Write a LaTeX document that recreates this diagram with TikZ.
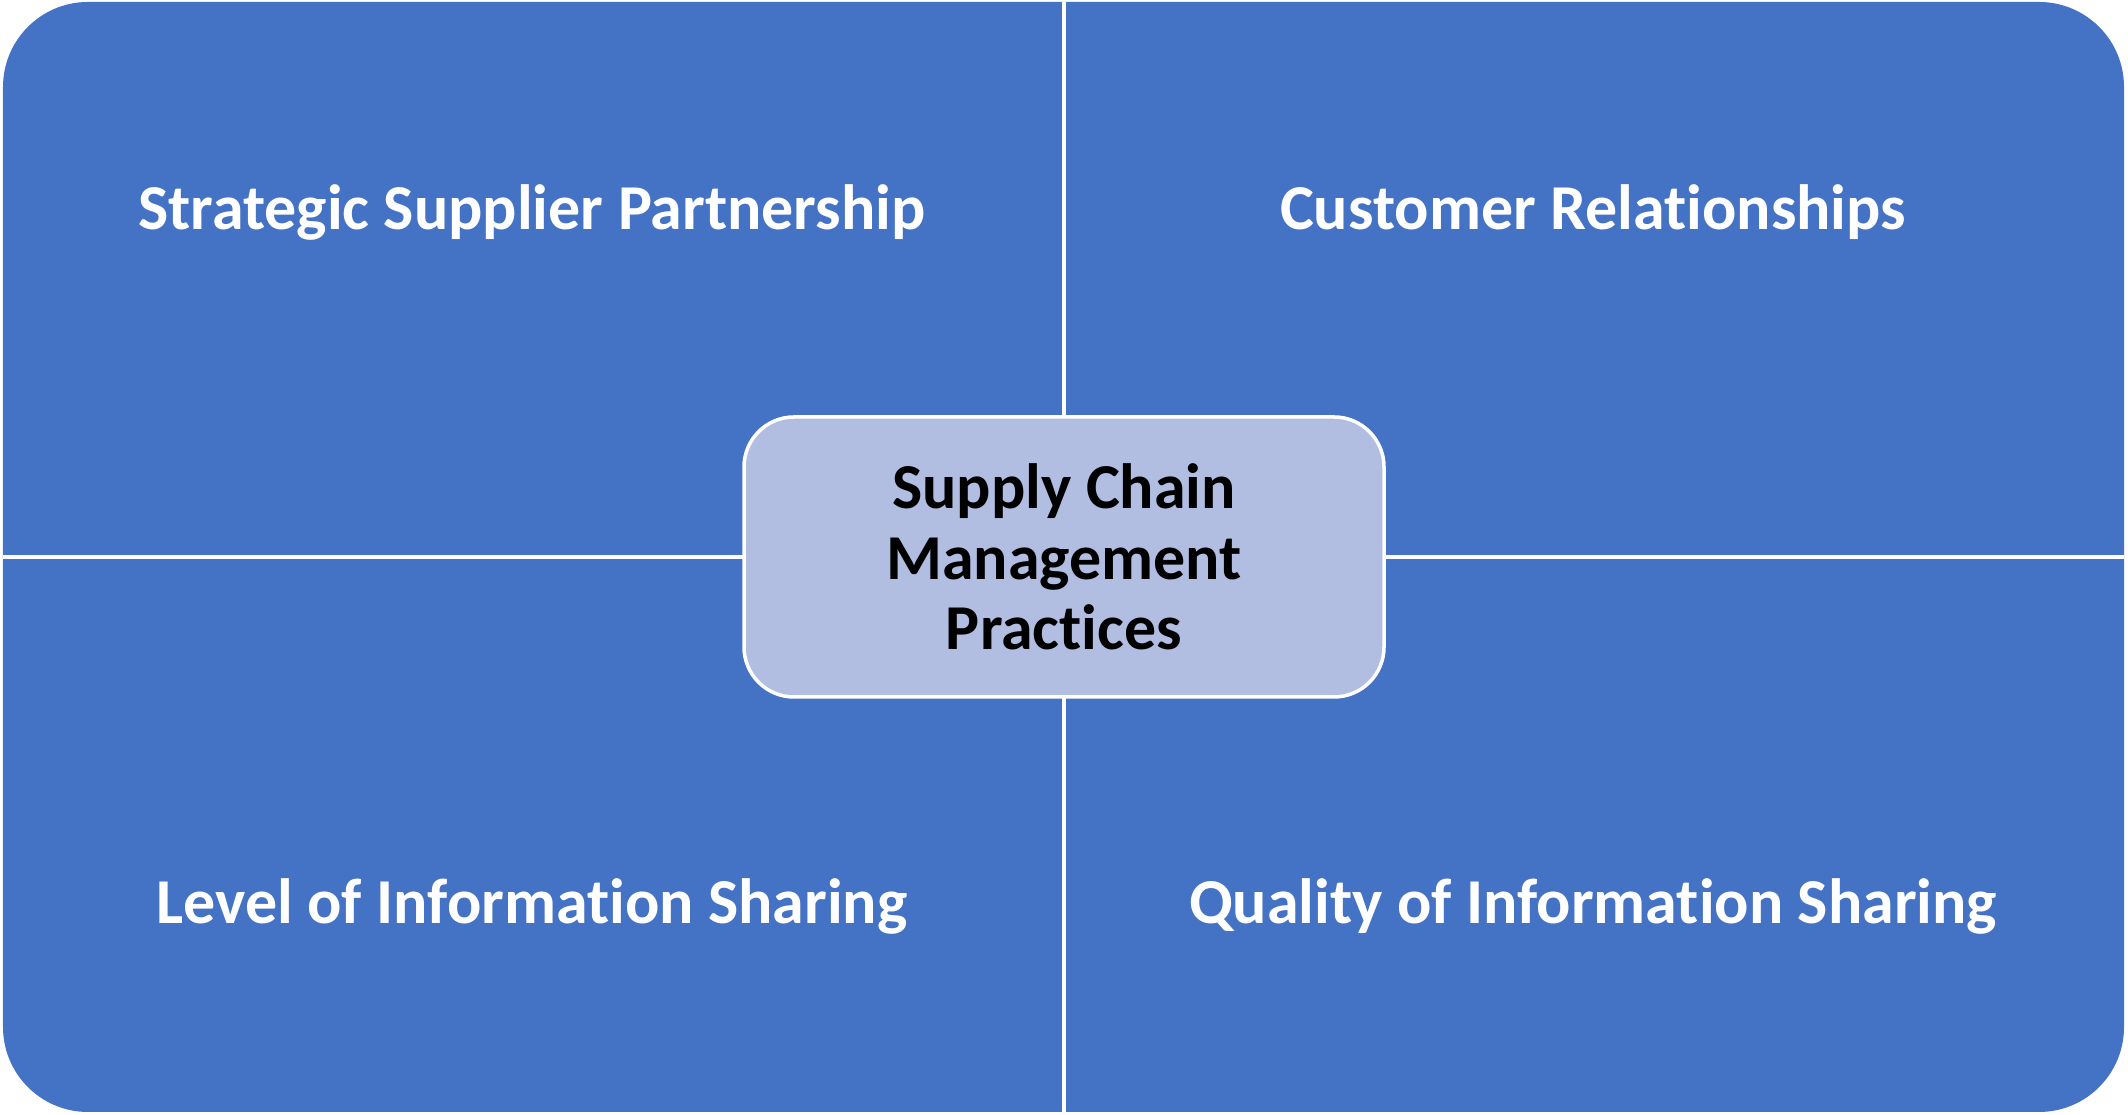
\documentclass[tikz,border=0pt]{standalone}
\usepackage{fontspec}
\setmainfont{Carlito}[RawFeature={-liga}]
\definecolor{quadblue}{RGB}{68,114,196}
\definecolor{centerfill}{RGB}{177,189,225}
\begin{document}
\begin{tikzpicture}[x=1cm,y=1cm,
  outer/.style={fill=quadblue,rounded corners=0.85cm},
  divider/.style={draw=white,line width=0.9pt},
  quadtext/.style={text=white,font=\fontsize{18.2}{21}\selectfont\bfseries,anchor=center,inner sep=0pt},
  centerbox/.style={fill=centerfill,draw=white,line width=1pt,rounded corners=0.5cm,minimum width=6.4cm,minimum height=2.8cm,align=center,font=\fontsize{18.2}{20}\selectfont\bfseries,text=black,inner sep=0pt}]
\useasboundingbox (0,0) rectangle (21.28,11.15);
\path[outer] (0.03,0.03) rectangle (21.24,11.13);
\coordinate (top) at (10.64,11.13);
\coordinate (bot) at (10.64,0.03);
\coordinate (lft) at (0.03,5.58);
\coordinate (rgt) at (21.24,5.58);
\draw[divider] (top) -- (bot);
\draw[divider] (lft) -- (rgt);
% texts
\node[quadtext] (ssp) at (5.32,9.03) {Strategic Supplier Partnership};
\node[quadtext] (cr) at (15.93,9.03) {Customer Relationships};
\node[quadtext] (lis) at (5.32,2.09) {Level of Information Sharing};
\node[quadtext] (qis) at (15.93,2.09) {Quality of Information Sharing};
\node[centerbox] (scm) at (10.64,5.58) {Supply Chain\\Management\\Practices};
\end{tikzpicture}
\end{document}
